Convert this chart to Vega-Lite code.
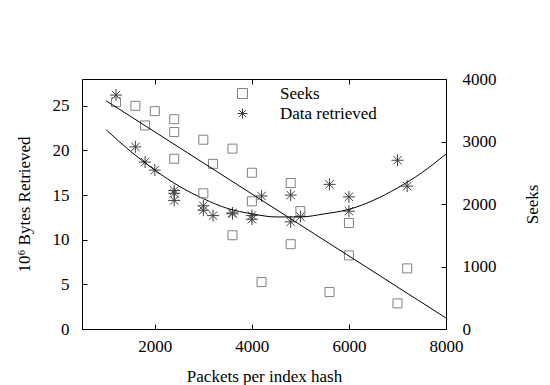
{
  "$schema": "https://vega.github.io/schema/vega-lite/v6.json",
  "width": 364,
  "height": 250,
  "autosize": "none",
  "padding": {"left": 82, "top": 79, "right": 104, "bottom": 56},
  "background": "white",
  "config": {
    "font": "Liberation Serif",
    "view": {"stroke": "black", "strokeWidth": 1},
    "axis": {
      "domainColor": "black", "tickColor": "black", "labelColor": "black", "titleColor": "black",
      "labelFont": "Liberation Serif", "titleFont": "Liberation Serif",
      "labelFontSize": 17, "titleFontSize": 17, "titleFontWeight": "normal",
      "tickSize": -5, "grid": false, "domainWidth": 1, "tickWidth": 1, "format": "d"
    },
    "legend": {
      "labelFont": "Liberation Serif", "labelFontSize": 17, "labelColor": "black"
    }
  },
  "datasets": {
    "points": [
      {"packets": 1200, "series": "Seeks", "value": 3629},
      {"packets": 1600, "series": "Seeks", "value": 3571},
      {"packets": 1800, "series": "Seeks", "value": 3257},
      {"packets": 2000, "series": "Seeks", "value": 3486},
      {"packets": 2400, "series": "Seeks", "value": 3357},
      {"packets": 2400, "series": "Seeks", "value": 3151},
      {"packets": 2400, "series": "Seeks", "value": 2724},
      {"packets": 3000, "series": "Seeks", "value": 3029},
      {"packets": 3000, "series": "Seeks", "value": 2171},
      {"packets": 3200, "series": "Seeks", "value": 2643},
      {"packets": 3600, "series": "Seeks", "value": 2886},
      {"packets": 3600, "series": "Seeks", "value": 1500},
      {"packets": 4000, "series": "Seeks", "value": 2500},
      {"packets": 4000, "series": "Seeks", "value": 2043},
      {"packets": 4200, "series": "Seeks", "value": 751},
      {"packets": 4800, "series": "Seeks", "value": 2336},
      {"packets": 4800, "series": "Seeks", "value": 1357},
      {"packets": 5000, "series": "Seeks", "value": 1886},
      {"packets": 5600, "series": "Seeks", "value": 591},
      {"packets": 6000, "series": "Seeks", "value": 1696},
      {"packets": 6000, "series": "Seeks", "value": 1177},
      {"packets": 7000, "series": "Seeks", "value": 410},
      {"packets": 7200, "series": "Seeks", "value": 970},
      {"packets": 1200, "series": "Data retrieved", "value": 26.2},
      {"packets": 1600, "series": "Data retrieved", "value": 20.4},
      {"packets": 1800, "series": "Data retrieved", "value": 18.7},
      {"packets": 2000, "series": "Data retrieved", "value": 17.8},
      {"packets": 2400, "series": "Data retrieved", "value": 15.5},
      {"packets": 2400, "series": "Data retrieved", "value": 15.2},
      {"packets": 2400, "series": "Data retrieved", "value": 14.4},
      {"packets": 3000, "series": "Data retrieved", "value": 13.8},
      {"packets": 3000, "series": "Data retrieved", "value": 13.3},
      {"packets": 3200, "series": "Data retrieved", "value": 12.7},
      {"packets": 3600, "series": "Data retrieved", "value": 12.9},
      {"packets": 3600, "series": "Data retrieved", "value": 13.0},
      {"packets": 4000, "series": "Data retrieved", "value": 12.7},
      {"packets": 4000, "series": "Data retrieved", "value": 12.3},
      {"packets": 4200, "series": "Data retrieved", "value": 14.9},
      {"packets": 4800, "series": "Data retrieved", "value": 15.0},
      {"packets": 4800, "series": "Data retrieved", "value": 12.0},
      {"packets": 5000, "series": "Data retrieved", "value": 12.6},
      {"packets": 5600, "series": "Data retrieved", "value": 16.2},
      {"packets": 6000, "series": "Data retrieved", "value": 14.8},
      {"packets": 6000, "series": "Data retrieved", "value": 13.2},
      {"packets": 7000, "series": "Data retrieved", "value": 18.9},
      {"packets": 7200, "series": "Data retrieved", "value": 16.0}
    ],
    "fits": [
      {"packets": 1000, "fit": "seeks", "value": 3650},
      {"packets": 8000, "fit": "seeks", "value": 176},
      {"packets": 1000, "fit": "retrieved", "value": 22.3},
      {"packets": 1500, "fit": "retrieved", "value": 19.9},
      {"packets": 2000, "fit": "retrieved", "value": 17.8},
      {"packets": 2500, "fit": "retrieved", "value": 16.0},
      {"packets": 3000, "fit": "retrieved", "value": 14.6},
      {"packets": 3500, "fit": "retrieved", "value": 13.5},
      {"packets": 4000, "fit": "retrieved", "value": 12.9},
      {"packets": 4500, "fit": "retrieved", "value": 12.55},
      {"packets": 5000, "fit": "retrieved", "value": 12.55},
      {"packets": 5500, "fit": "retrieved", "value": 12.9},
      {"packets": 6000, "fit": "retrieved", "value": 13.4},
      {"packets": 6500, "fit": "retrieved", "value": 14.4},
      {"packets": 7000, "fit": "retrieved", "value": 15.8},
      {"packets": 7500, "fit": "retrieved", "value": 17.5},
      {"packets": 8000, "fit": "retrieved", "value": 19.6}
    ]
  },
  "layer": [
    {
      "layer": [
        {
          "data": {"name": "points"},
          "transform": [{"filter": "datum.series === 'Data retrieved'"}],
          "mark": {"type": "point", "filled": false, "size": 144, "strokeWidth": 1, "opacity": 1},
          "encoding": {
            "x": {"field": "packets", "type": "quantitative", "scale": {"domain": [500, 8000], "nice": false},
              "axis": {"orient": "bottom", "values": [2000, 4000, 6000, 8000], "title": "Packets per index hash", "labelPadding": 14, "titlePadding": 14, "labelFlush": false}},
            "y": {"field": "value", "type": "quantitative", "scale": {"domain": [0, 28], "nice": false, "zero": false},
              "axis": {"orient": "left", "values": [0, 5, 10, 15, 20, 25], "title": "10⁶ Bytes Retrieved", "labelPadding": 18, "titlePadding": 19}},
            "shape": {"field": "series", "type": "nominal",
              "scale": {"domain": ["Seeks", "Data retrieved"], "range": ["square", "M-1,0L1,0M0,-1L0,1M-0.7,-0.7L0.7,0.7M-0.7,0.7L0.7,-0.7"]},
              "legend": {"title": null, "orient": "none", "legendX": 152, "legendY": 6, "labelOffset": 29, "rowPadding": 2, "symbolStrokeWidth": 1, "symbolSize": 100}},
            "color": {"field": "series", "type": "nominal",
              "scale": {"domain": ["Seeks", "Data retrieved"], "range": ["#808080", "#404040"]},
              "legend": {"title": null, "orient": "none", "legendX": 152, "legendY": 6, "labelOffset": 29, "rowPadding": 2, "symbolStrokeWidth": 1, "symbolSize": 100}}
          }
        },
        {
          "data": {"name": "fits"},
          "transform": [{"filter": "datum.fit === 'retrieved'"}],
          "mark": {"type": "line", "color": "black", "strokeWidth": 1, "interpolate": "monotone"},
          "encoding": {
            "x": {"field": "packets", "type": "quantitative", "scale": {"domain": [500, 8000], "nice": false},
              "axis": {"orient": "bottom", "values": [2000, 4000, 6000, 8000], "title": "Packets per index hash", "labelPadding": 14, "titlePadding": 14, "labelFlush": false}},
            "y": {"field": "value", "type": "quantitative", "scale": {"domain": [0, 28], "nice": false, "zero": false},
              "axis": {"orient": "left", "values": [0, 5, 10, 15, 20, 25], "title": "10⁶ Bytes Retrieved", "labelPadding": 18, "titlePadding": 19}}
          }
        }
      ]
    },
    {
      "layer": [
        {
          "data": {"name": "points"},
          "transform": [{"filter": "datum.series === 'Seeks'"}],
          "mark": {"type": "point", "filled": false, "size": 81, "strokeWidth": 1, "opacity": 1},
          "encoding": {
            "x": {"field": "packets", "type": "quantitative", "scale": {"domain": [500, 8000], "nice": false},
              "axis": {"orient": "top", "values": [2000, 4000, 6000, 8000], "labels": false, "title": null, "domain": false}},
            "y": {"field": "value", "type": "quantitative", "scale": {"domain": [0, 4000], "nice": false, "zero": false},
              "axis": {"orient": "right", "values": [0, 1000, 2000, 3000, 4000], "title": "Seeks", "titleAngle": 270, "labelPadding": 21, "titlePadding": 45}},
            "shape": {"field": "series", "type": "nominal",
              "scale": {"domain": ["Seeks", "Data retrieved"], "range": ["square", "M-1,0L1,0M0,-1L0,1M-0.7,-0.7L0.7,0.7M-0.7,0.7L0.7,-0.7"]},
              "legend": {"title": null, "orient": "none", "legendX": 152, "legendY": 6, "labelOffset": 29, "rowPadding": 2, "symbolStrokeWidth": 1, "symbolSize": 100}},
            "color": {"field": "series", "type": "nominal",
              "scale": {"domain": ["Seeks", "Data retrieved"], "range": ["#808080", "#404040"]},
              "legend": {"title": null, "orient": "none", "legendX": 152, "legendY": 6, "labelOffset": 29, "rowPadding": 2, "symbolStrokeWidth": 1, "symbolSize": 100}}
          }
        },
        {
          "data": {"name": "fits"},
          "transform": [{"filter": "datum.fit === 'seeks'"}],
          "mark": {"type": "line", "color": "black", "strokeWidth": 1},
          "encoding": {
            "x": {"field": "packets", "type": "quantitative", "scale": {"domain": [500, 8000], "nice": false},
              "axis": {"orient": "top", "values": [2000, 4000, 6000, 8000], "labels": false, "title": null, "domain": false}},
            "y": {"field": "value", "type": "quantitative", "scale": {"domain": [0, 4000], "nice": false, "zero": false},
              "axis": {"orient": "right", "values": [0, 1000, 2000, 3000, 4000], "title": "Seeks", "titleAngle": 270, "labelPadding": 21, "titlePadding": 45}}
          }
        }
      ]
    }
  ],
  "resolve": {"scale": {"y": "independent"}, "axis": {"x": "independent", "y": "independent"}}
}
